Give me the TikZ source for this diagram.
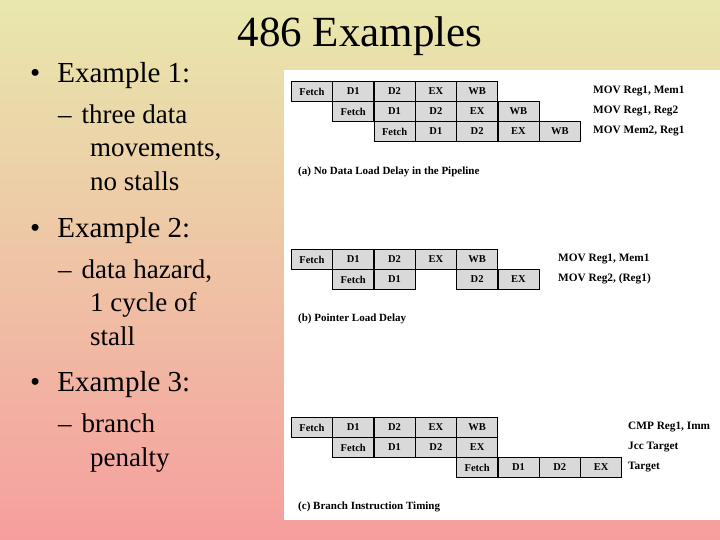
\documentclass[tikz,border=0pt]{standalone}
\usepackage{fontspec}
\setmainfont{Liberation Serif}
\begin{document}
\begin{tikzpicture}[x=1pt,y=-1pt,
  cell/.style={draw=black,line width=0.9pt,fill=gray!30,minimum width=41pt,minimum height=20pt,inner sep=0pt,anchor=north west,font=\fontsize{10.5}{12}\selectfont\bfseries},
  lab/.style={anchor=west,inner sep=0pt,font=\fontsize{11.3}{12}\selectfont\bfseries},
  captxt/.style={anchor=west,inner sep=0pt,font=\fontsize{11}{12}\selectfont\bfseries},
  big/.style={anchor=base west,inner sep=0pt,font=\fontsize{29}{30}\selectfont},
  sub/.style={anchor=base west,inner sep=0pt,font=\fontsize{27}{28}\selectfont}]
\shade[top color={rgb,255:red,232;green,232;blue,172},bottom color={rgb,255:red,246;green,158;blue,158}] (0,0) rectangle (720,540);
\useasboundingbox (0,0) rectangle (720,540);
\fill[white] (284,70) rectangle (720,520);
\node[anchor=base,font=\fontsize{43}{44}\selectfont,inner sep=0pt] (title) at (360,47) {486 Examples};
% left bullets
\node[big] (b1) at (30,83) {•\hspace{17pt}Example 1:};
\node[sub] (s1a) at (58,124) {–\hspace{10pt}three data};
\node[sub] (s1b) at (90,157) {movements,};
\node[sub] (s1c) at (90,191) {no stalls};
\node[big] (b2) at (30,237) {•\hspace{17pt}Example 2:};
\node[sub] (s2a) at (58,278) {–\hspace{10pt}data hazard,};
\node[sub] (s2b) at (90,311) {1 cycle of};
\node[sub] (s2c) at (90,345) {stall};
\node[big] (b3) at (30,391) {•\hspace{17pt}Example 3:};
\node[sub] (s3a) at (58,432) {–\hspace{10pt}branch};
\node[sub] (s3b) at (90,466) {penalty};
% (a)
\foreach \t [count=\i from 0] in {Fetch,D1,D2,EX,WB} \node[cell] (a1\i) at (291+41.3*\i,81) {\t};
\foreach \t [count=\i from 0] in {Fetch,D1,D2,EX,WB} \node[cell] (a2\i) at (332.3+41.3*\i,101) {\t};
\foreach \t [count=\i from 0] in {Fetch,D1,D2,EX,WB} \node[cell] (a3\i) at (373.6+41.3*\i,121) {\t};
\node[lab] (la1) at (593,91) {MOV Reg1, Mem1};
\node[lab] (la2) at (593,111) {MOV Reg1, Reg2};
\node[lab] (la3) at (593,131) {MOV Mem2, Reg1};
\node[captxt] (ca) at (298,172) {(a) No Data Load Delay in the Pipeline};
% (b)
\foreach \t [count=\i from 0] in {Fetch,D1,D2,EX,WB} \node[cell] (b1\i) at (291+41.3*\i,249) {\t};
\node[cell] (b20) at (332.3,269) {Fetch};
\node[cell] (b21) at (373.6,269) {D1};
\node[cell] (b22) at (456.2,269) {D2};
\node[cell] (b23) at (497.5,269) {EX};
\node[lab] (lb1) at (558,259) {MOV Reg1, Mem1};
\node[lab] (lb2) at (558,279) {MOV Reg2, (Reg1)};
\node[captxt] (cb) at (298,319) {(b) Pointer Load Delay};
% (c)
\foreach \t [count=\i from 0] in {Fetch,D1,D2,EX,WB} \node[cell] (c1\i) at (291+41.3*\i,417) {\t};
\foreach \t [count=\i from 0] in {Fetch,D1,D2,EX} \node[cell] (c2\i) at (332.3+41.3*\i,437) {\t};
\foreach \t [count=\i from 0] in {Fetch,D1,D2,EX} \node[cell] (c3\i) at (456.2+41.3*\i,457) {\t};
\node[lab] (lc1) at (628,427) {CMP Reg1, Imm};
\node[lab] (lc2) at (628,447) {Jcc Target};
\node[lab] (lc3) at (628,467) {Target};
\node[captxt] (cc) at (298,507) {(c) Branch Instruction Timing};
\end{tikzpicture}
\end{document}
